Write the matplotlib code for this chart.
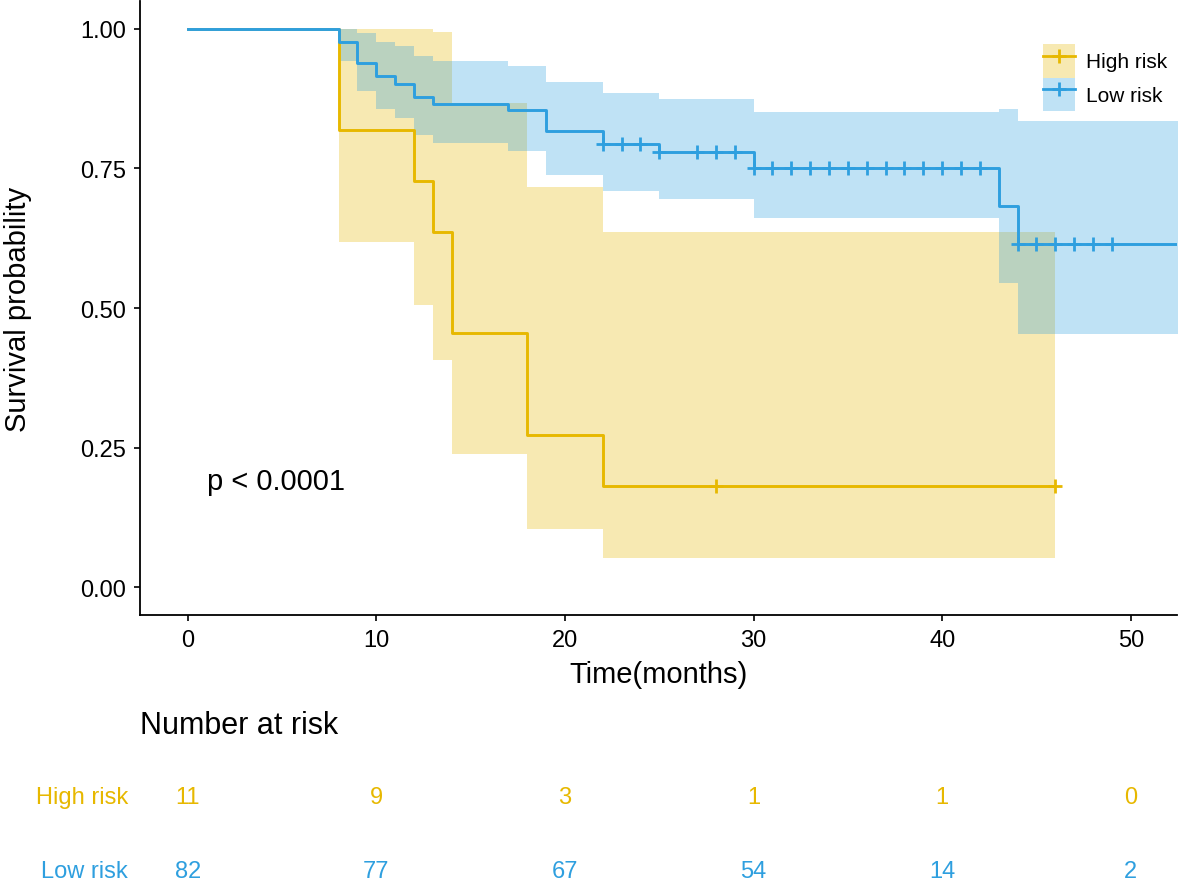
import matplotlib
matplotlib.use("Agg")
import matplotlib.pyplot as plt
from matplotlib.patches import Patch
from matplotlib.lines import Line2D
from matplotlib.transforms import blended_transform_factory
import numpy as np

plt.rcParams['font.family'] = ['Liberation Sans', 'DejaVu Sans']

# Kaplan-Meier steps
high_t = [0, 8, 12, 13, 14, 18, 22]
high_s = [1.0, 0.818, 0.727, 0.636, 0.455, 0.273, 0.182]
high_lo = [1.0, 0.619, 0.506, 0.407, 0.238, 0.104, 0.052]
high_hi = [1.0, 1.0, 1.0, 0.995, 0.868, 0.716, 0.637]
high_end = 46
high_cens = [28, 46]

low_t = [0, 8, 9, 10, 11, 12, 13, 17, 19, 22, 25, 30, 43, 44]
low_s = [1.0, 0.976, 0.939, 0.915, 0.902, 0.878, 0.866, 0.854, 0.817, 0.793, 0.780, 0.751, 0.683, 0.615]
low_lo = [1.0, 0.943, 0.889, 0.856, 0.840, 0.810, 0.795, 0.781, 0.738, 0.710, 0.695, 0.662, 0.545, 0.453]
low_hi = [1.0, 1.0, 0.992, 0.977, 0.969, 0.952, 0.943, 0.934, 0.905, 0.885, 0.875, 0.852, 0.856, 0.835]
low_end = 56
low_cens = [22, 23, 24, 25, 27, 28, 29, 30, 31, 32, 33, 34, 35, 36, 37, 38, 39, 40, 41, 42,
            44, 45, 46, 47, 48, 49]

risk_times = [0, 10, 20, 30, 40, 50]
high_risk_n = [11, 9, 3, 1, 1, 0]
low_risk_n = [82, 77, 67, 54, 14, 2]

groups = ["High risk", "Low risk"]
colors = ["#E7B800", "#2E9FDF"]

fig = plt.figure(figsize=(11.82, 8.87), dpi=100)
ax = fig.add_axes([140/1182, 1-616/887, 1037/1182, 614/887])

curves = [(high_t, high_s, high_lo, high_hi, high_end, high_cens),
          (low_t, low_s, low_lo, low_hi, low_end, low_cens)]

for (t, s, lo, hi, end, cens), col in zip(curves, colors):
    tt = np.array(t + [end])
    ss = np.array(s + [s[-1]])
    ll = np.array(lo + [lo[-1]])
    hh = np.array(hi + [hi[-1]])
    ax.fill_between(tt, ll, hh, step='post', color=col, alpha=0.3, linewidth=0)
    ax.step(tt, ss, where='post', color=col, lw=2.1)
    idx = np.searchsorted(np.array(t), np.array(cens), side='right') - 1
    ax.plot(cens, ss[idx], linestyle='none', marker='+', color=col, ms=10, mew=2)

ax.set_xlim(-2.53, 52.45)
ax.set_ylim(-0.05, 1.05)
ax.set_xticks(risk_times)
ax.set_yticks([0, 0.25, 0.5, 0.75, 1.0])
ax.set_yticklabels(["0.00", "0.25", "0.50", "0.75", "1.00"])
ax.tick_params(labelsize=17, length=4, width=1.2, pad=6, colors='black')
for side in ['top', 'right']:
    ax.spines[side].set_visible(False)
for side in ['left', 'bottom']:
    ax.spines[side].set_linewidth(1.3)

ax.set_xlabel("Time(months)", fontsize=21, va='center')
ax.xaxis.set_label_coords(0.5, (616-675)/614)
ax.set_ylabel("Survival probability", fontsize=21, va='center', ha='center')
ax.yaxis.set_label_coords((18-140)/1037, 0.5)

ax.text(1.0, 0.19, "p < 0.0001", fontsize=21, ha='left', va='center')

handles = [(Patch(facecolor=c, alpha=0.3, linewidth=0),
            Line2D([], [], color=c, lw=2, marker='+', ms=10, mew=2)) for c in colors]
ax.legend(handles, groups, loc='upper left', bbox_to_anchor=((1043-140)/1037, (616-45)/614),
          frameon=False, fontsize=15, borderpad=0, borderaxespad=0, handlelength=1.55,
          handleheight=2.1, labelspacing=0.0, handletextpad=0.5)

# risk table
tr = blended_transform_factory(ax.transData, fig.transFigure)
fig.text(140/1182, 1-726/887, "Number at risk", fontsize=22, ha='left', va='center')
rows_y = [1-798/887, 1-872/887]
for name, counts, col, y in zip(groups, [high_risk_n, low_risk_n], colors, rows_y):
    fig.text(128/1182, y, name, fontsize=17, color=col, ha='right', va='center')
    for t, n in zip(risk_times, counts):
        ax.text(t, y, str(n), transform=tr, fontsize=17, color=col, ha='center', va='center')

fig.savefig("out.png", dpi=100)
